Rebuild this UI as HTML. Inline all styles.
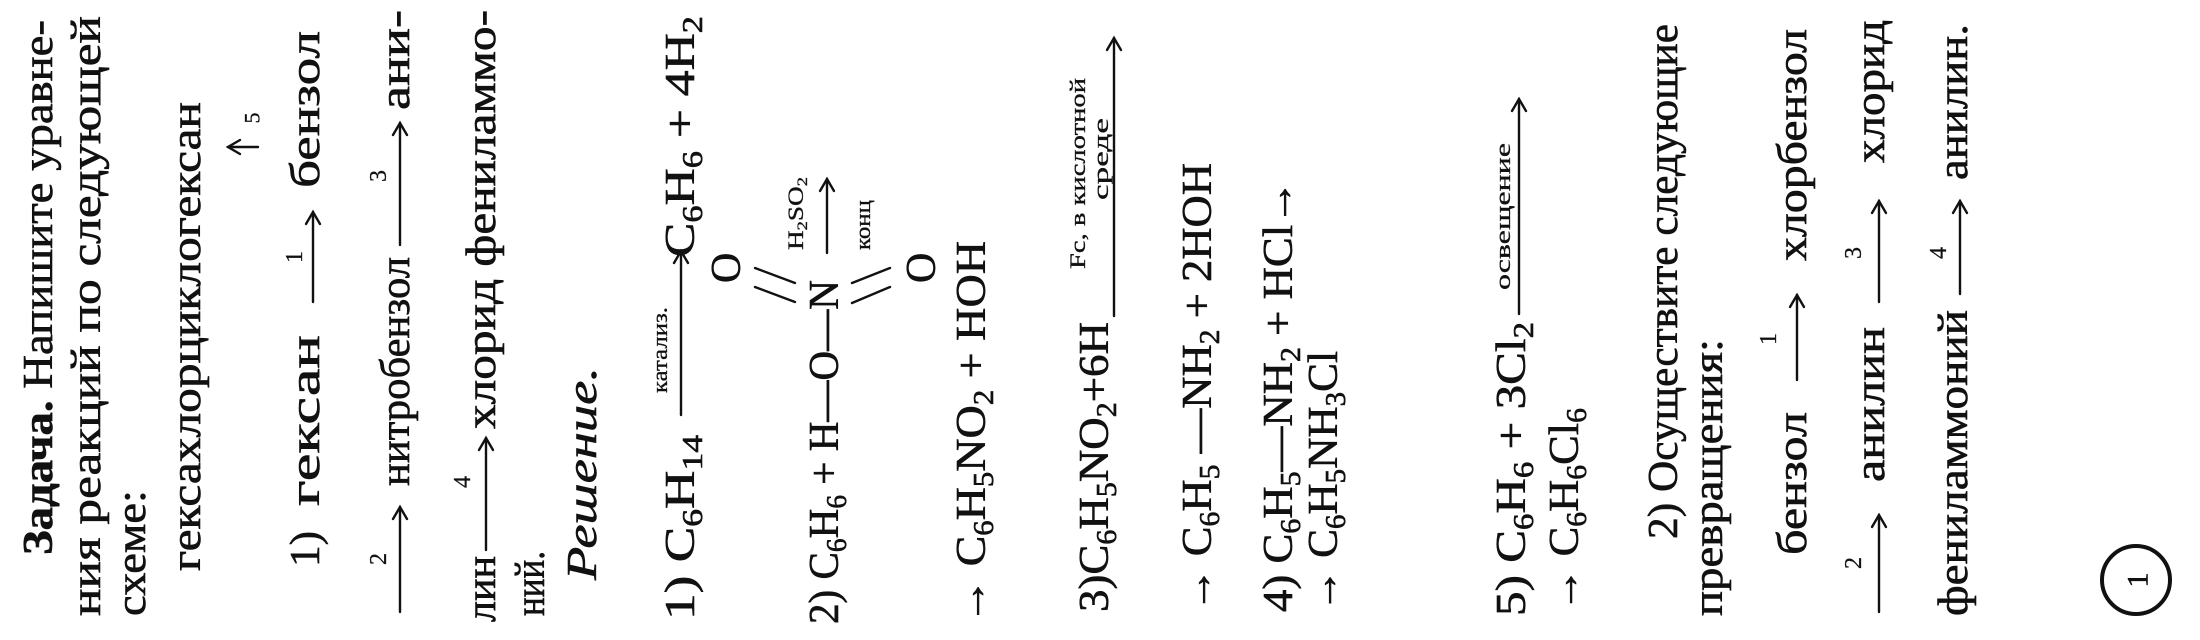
<!DOCTYPE html>
<html><head><meta charset="utf-8"><style>
html,body{margin:0;padding:0;background:#fff}
svg{display:block}
text{font-family:"Liberation Serif","DejaVu Serif",serif;fill:#111;stroke:#111;stroke-width:0.6px}
.m{font-size:42px}
.s{font-size:22px;stroke-width:0.3px}
.l{font-size:24px;stroke-width:0.3px}
line,path,circle{stroke:#111;fill:none}
</style></head><body>
<svg width="2200" height="640" viewBox="0 0 2200 640" xmlns="http://www.w3.org/2000/svg">
<g stroke-width="2.4" stroke-linecap="round">
<text class="m" transform="translate(52,555) rotate(-90)" textLength="535" lengthAdjust="spacingAndGlyphs"><tspan font-weight="bold">Задача.</tspan> Напишите уравне-</text>
<text class="m" transform="translate(100,616) rotate(-90)" textLength="600" lengthAdjust="spacingAndGlyphs">ния реакций по следующей</text>
<text class="m" transform="translate(145,616) rotate(-90)" textLength="126" lengthAdjust="spacingAndGlyphs">схеме:</text>
<text class="m" transform="translate(200,571) rotate(-90)" textLength="469" lengthAdjust="spacingAndGlyphs">гексахлорциклогексан</text>
<line x1="258" y1="147" x2="228" y2="147"/><path d="M240,140 L228,147 L240,154"/>
<text class="s" transform="translate(252,118) rotate(-90)" text-anchor="middle" dominant-baseline="central">5</text>
<text class="m" transform="translate(319,567) rotate(-90)" textLength="36" lengthAdjust="spacingAndGlyphs">1)</text>
<text class="m" transform="translate(319,506) rotate(-90)" textLength="171" lengthAdjust="spacingAndGlyphs">гексан</text>
<line x1="313" y1="302" x2="313" y2="212"/><path d="M306,224 L313,212 L320,224"/>
<text class="l" transform="translate(295,257) rotate(-90)" text-anchor="middle" dominant-baseline="central">1</text>
<text class="m" transform="translate(319,188) rotate(-90)" textLength="157" lengthAdjust="spacingAndGlyphs">бензол</text>
<line x1="400" y1="612" x2="400" y2="507"/><path d="M393,519 L400,507 L407,519"/>
<text class="l" transform="translate(379,559) rotate(-90)" text-anchor="middle" dominant-baseline="central">2</text>
<text class="m" transform="translate(409,486) rotate(-90)" textLength="229" lengthAdjust="spacingAndGlyphs">нитробензол</text>
<line x1="400" y1="245" x2="400" y2="123"/><path d="M393,135 L400,123 L407,135"/>
<text class="l" transform="translate(379,176) rotate(-90)" text-anchor="middle" dominant-baseline="central">3</text>
<text class="m" transform="translate(409,110) rotate(-90)" textLength="100" lengthAdjust="spacingAndGlyphs">ани-</text>
<text class="m" transform="translate(495,622) rotate(-90)" textLength="66" lengthAdjust="spacingAndGlyphs">лин</text>
<line x1="486" y1="550" x2="486" y2="438"/><path d="M479,450 L486,438 L493,450"/>
<text class="l" transform="translate(463,482) rotate(-90)" text-anchor="middle" dominant-baseline="central">4</text>
<text class="m" transform="translate(495,429) rotate(-90)" textLength="419" lengthAdjust="spacingAndGlyphs">хлорид фениламмо-</text>
<text class="m" transform="translate(544,616) rotate(-90)" textLength="65" lengthAdjust="spacingAndGlyphs">ний.</text>
<text class="m" font-style="italic" transform="translate(596,580) rotate(-90)" textLength="213" lengthAdjust="spacingAndGlyphs">Решение.</text>
<text class="m" transform="translate(694,620) rotate(-90)" textLength="185" lengthAdjust="spacingAndGlyphs">1) C<tspan font-size="28" dy="8">6</tspan><tspan dy="-8">H</tspan><tspan font-size="28" dy="8">14</tspan></text>
<line x1="681" y1="415" x2="681" y2="251"/><path d="M674,263 L681,251 L688,263"/>
<text class="s" transform="translate(667,393) rotate(-90)" textLength="86" lengthAdjust="spacingAndGlyphs">катализ.</text>
<text class="m" transform="translate(694,257) rotate(-90)" textLength="241" lengthAdjust="spacingAndGlyphs">C<tspan font-size="28" dy="8">6</tspan><tspan dy="-8">H</tspan><tspan font-size="28" dy="8">6</tspan><tspan dy="-8"> + 4H</tspan><tspan font-size="28" dy="8">2</tspan></text>
<text class="m" transform="translate(838,624) rotate(-90)" textLength="344" lengthAdjust="spacingAndGlyphs">2) C<tspan font-size="28" dy="8">6</tspan><tspan dy="-8">H</tspan><tspan font-size="28" dy="8">6</tspan><tspan dy="-8"> + H—O—N</tspan></text>
<text class="m" transform="translate(740,283) rotate(-90)">O</text>
<text class="m" transform="translate(935,283) rotate(-90)">O</text>
<line x1="755" y1="268" x2="795" y2="283"/><line x1="755" y1="287" x2="795" y2="302"/>
<line x1="852" y1="283" x2="890" y2="268"/><line x1="852" y1="303" x2="890" y2="287"/>
<text class="s" transform="translate(803,250) rotate(-90)" textLength="73" lengthAdjust="spacingAndGlyphs">H<tspan font-size="15" dy="4">2</tspan><tspan dy="-4">SO</tspan><tspan font-size="15" dy="4">2</tspan></text>
<line x1="827" y1="253" x2="827" y2="179"/><path d="M820,191 L827,179 L834,191"/>
<text class="s" transform="translate(870,250) rotate(-90)" textLength="50" lengthAdjust="spacingAndGlyphs">конц</text>
<text class="m" transform="translate(985,624) rotate(-90)" textLength="383" lengthAdjust="spacingAndGlyphs">→ C<tspan font-size="28" dy="8">6</tspan><tspan dy="-8">H</tspan><tspan font-size="28" dy="8">5</tspan><tspan dy="-8">NO</tspan><tspan font-size="28" dy="8">2</tspan><tspan dy="-8"> + HOH</tspan></text>
<text class="s" transform="translate(1085,269) rotate(-90)" textLength="191" lengthAdjust="spacingAndGlyphs">Fc, в кислотной</text>
<text class="s" transform="translate(1108,200) rotate(-90)" textLength="82" lengthAdjust="spacingAndGlyphs">среде</text>
<line x1="1114" y1="316" x2="1114" y2="38"/><path d="M1107,50 L1114,38 L1121,50"/>
<text class="m" transform="translate(1108,612) rotate(-90)" textLength="290" lengthAdjust="spacingAndGlyphs">3)C<tspan font-size="28" dy="8">6</tspan><tspan dy="-8">H</tspan><tspan font-size="28" dy="8">5</tspan><tspan dy="-8">NO</tspan><tspan font-size="28" dy="8">2</tspan><tspan dy="-8">+6H</tspan></text>
<text class="m" transform="translate(1211,612) rotate(-90)" textLength="449" lengthAdjust="spacingAndGlyphs">→ C<tspan font-size="28" dy="8">6</tspan><tspan dy="-8">H</tspan><tspan font-size="28" dy="8">5</tspan><tspan dy="-8"> —NH</tspan><tspan font-size="28" dy="8">2</tspan><tspan dy="-8"> + 2HOH</tspan></text>
<text class="m" transform="translate(1292,612) rotate(-90)" textLength="432" lengthAdjust="spacingAndGlyphs">4) C<tspan font-size="28" dy="8">6</tspan><tspan dy="-8">H</tspan><tspan font-size="28" dy="8">5</tspan><tspan dy="-8">—NH</tspan><tspan font-size="28" dy="8">2</tspan><tspan dy="-8"> + HCl→</tspan></text>
<text class="m" transform="translate(1337,612) rotate(-90)" textLength="261" lengthAdjust="spacingAndGlyphs">→ C<tspan font-size="28" dy="8">6</tspan><tspan dy="-8">H</tspan><tspan font-size="28" dy="8">5</tspan><tspan dy="-8">NH</tspan><tspan font-size="28" dy="8">3</tspan><tspan dy="-8">Cl</tspan></text>
<text class="m" transform="translate(1525,616) rotate(-90)" textLength="294" lengthAdjust="spacingAndGlyphs">5) C<tspan font-size="28" dy="8">6</tspan><tspan dy="-8">H</tspan><tspan font-size="28" dy="8">6</tspan><tspan dy="-8"> + 3Cl</tspan><tspan font-size="28" dy="8">2</tspan></text>
<line x1="1519" y1="314" x2="1519" y2="99"/><path d="M1512,111 L1519,99 L1526,111"/>
<text class="s" transform="translate(1510,290) rotate(-90)" textLength="147" lengthAdjust="spacingAndGlyphs">освещение</text>
<text class="m" transform="translate(1578,612) rotate(-90)" textLength="204" lengthAdjust="spacingAndGlyphs">→ C<tspan font-size="28" dy="8">6</tspan><tspan dy="-8">H</tspan><tspan font-size="28" dy="8">6</tspan><tspan dy="-8">Cl</tspan><tspan font-size="28" dy="8">6</tspan></text>
<text class="m" transform="translate(1677,539) rotate(-90)" textLength="515" lengthAdjust="spacingAndGlyphs">2) Осуществите следующие</text>
<text class="m" transform="translate(1722,616) rotate(-90)" textLength="277" lengthAdjust="spacingAndGlyphs">превращения:</text>
<text class="m" transform="translate(1806,555) rotate(-90)" textLength="143" lengthAdjust="spacingAndGlyphs">бензол</text>
<line x1="1797" y1="380" x2="1797" y2="295"/><path d="M1790,307 L1797,295 L1804,307"/>
<text class="l" transform="translate(1769,339) rotate(-90)" text-anchor="middle" dominant-baseline="central">1</text>
<text class="m" transform="translate(1806,261) rotate(-90)" textLength="232" lengthAdjust="spacingAndGlyphs">хлорбензол</text>
<line x1="1879" y1="612" x2="1879" y2="515"/><path d="M1872,527 L1879,515 L1886,527"/>
<text class="l" transform="translate(1854,563) rotate(-90)" text-anchor="middle" dominant-baseline="central">2</text>
<text class="m" transform="translate(1884,482) rotate(-90)" textLength="155" lengthAdjust="spacingAndGlyphs">анилин</text>
<line x1="1879" y1="302" x2="1879" y2="201"/><path d="M1872,213 L1879,201 L1886,213"/>
<text class="l" transform="translate(1854,253) rotate(-90)" text-anchor="middle" dominant-baseline="central">3</text>
<text class="m" transform="translate(1884,163) rotate(-90)" textLength="143" lengthAdjust="spacingAndGlyphs">хлорид</text>
<text class="m" transform="translate(1967,616) rotate(-90)" textLength="306" lengthAdjust="spacingAndGlyphs">фениламмоний</text>
<line x1="1960" y1="294" x2="1960" y2="201"/><path d="M1953,213 L1960,201 L1967,213"/>
<text class="l" transform="translate(1939,253) rotate(-90)" text-anchor="middle" dominant-baseline="central">4</text>
<text class="m" transform="translate(1967,180) rotate(-90)" textLength="156" lengthAdjust="spacingAndGlyphs">анилин.</text>
<circle cx="2136" cy="580" r="34" stroke-width="4"/>
<text font-size="30" transform="translate(2138,580) rotate(-90)" text-anchor="middle" dominant-baseline="central">1</text>
</g>
</svg>
</body></html>
